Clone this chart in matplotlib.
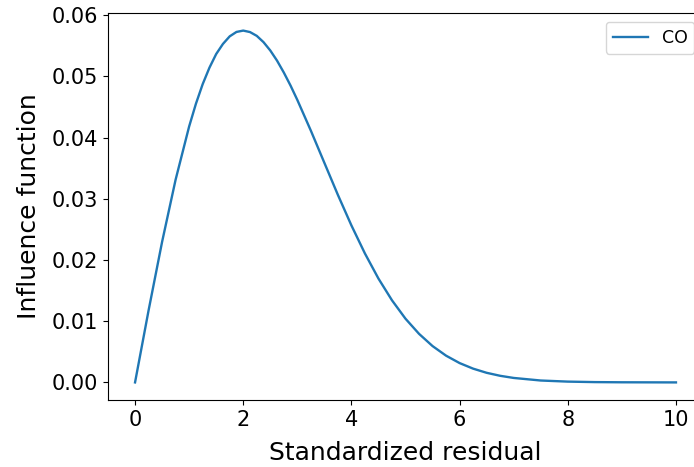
import numpy as np
import matplotlib
matplotlib.use('Agg')
import matplotlib.pyplot as plt

# values
residual = [0.0, 0.25, 0.5, 0.75, 1.0, 1.125, 1.25, 1.375, 1.5, 1.625, 1.75, 1.875,
            2.0, 2.125, 2.25, 2.375, 2.5, 2.625, 2.75, 2.875, 3.0, 3.25, 3.5, 3.75,
            4.0, 4.25, 4.5, 4.75, 5.0, 5.25, 5.5, 5.75, 6.0, 6.25, 6.5, 6.75, 7.0,
            7.5, 8.0, 8.5, 9.0, 9.5, 10.0]
influence = [0.0, 0.01176, 0.02297, 0.03314, 0.04183, 0.04553, 0.04874, 0.05143,
             0.05367, 0.05532, 0.05656, 0.05728, 0.05750, 0.05726, 0.05664, 0.05561,
             0.05425, 0.05259, 0.05065, 0.04851, 0.04617, 0.04115, 0.03589, 0.03065,
             0.02566, 0.02107, 0.01697, 0.01342, 0.01041, 0.00794, 0.00594, 0.00437,
             0.00316, 0.00225, 0.00157, 0.00108, 0.00073, 0.00031, 0.00013, 0.00005,
             0.00002, 0.00001, 0.0]
label = 'CO'

fig = plt.figure(figsize=(6.94, 4.67), dpi=100)
ax = fig.add_axes([108 / 694, 1 - 400 / 467, (703 - 108) / 694, (400 - 13) / 467])

ax.plot(residual, influence, color='#1f77b4', lw=1.7, label=label)
ax.set_xlabel('Standardized residual', fontsize=18, labelpad=8)
ax.set_ylabel('Influence function', fontsize=18, labelpad=8)
ax.tick_params(labelsize=15)
ax.set_yticks([0.0, 0.01, 0.02, 0.03, 0.04, 0.05, 0.06])
ax.legend(loc='upper right', fontsize=12.5)

fig.savefig('out.png', dpi=100)
